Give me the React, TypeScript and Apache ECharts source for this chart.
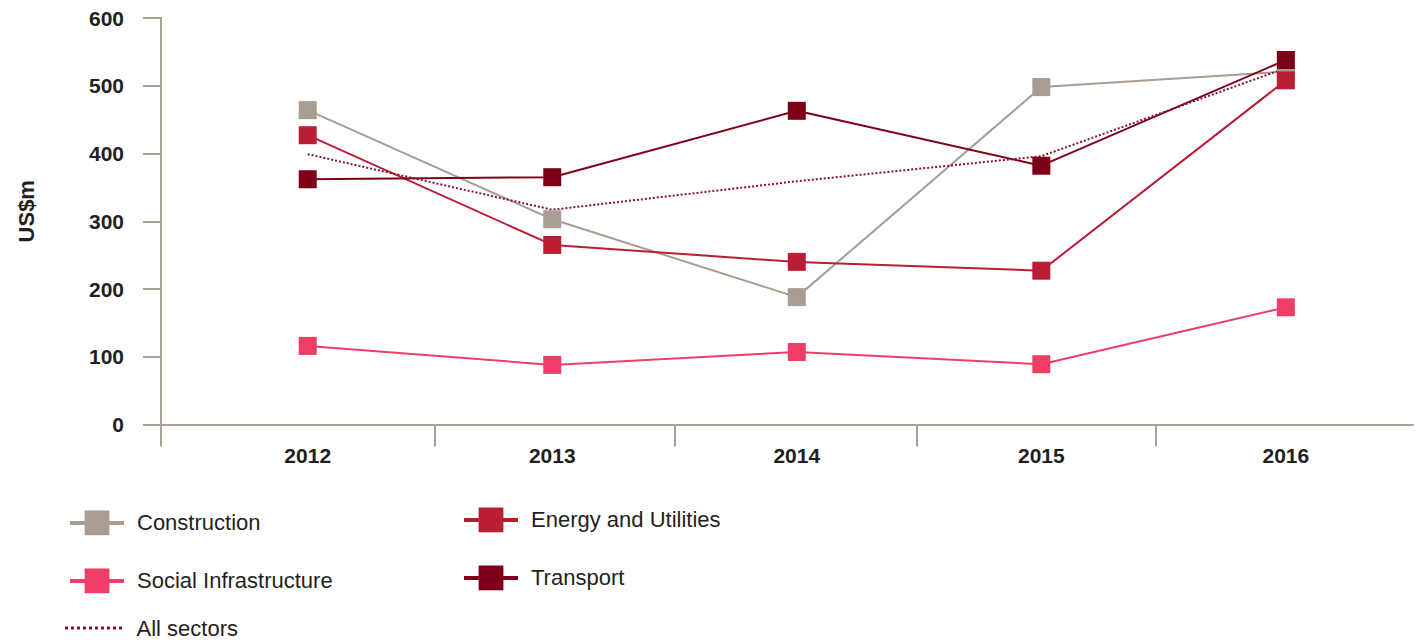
import React, { useEffect, useRef } from "react";
import * as echarts from "echarts";

const years = [2012, 2013, 2014, 2015, 2016];
const construction = [464, 303, 188, 498, 521];
const energyUtilities = [427, 265, 240, 227, 508];
const socialInfrastructure = [116, 88, 107, 89, 173];
const transport = [362, 365, 463, 382, 538];
const allSectors = [399, 317, 359, 396, 526];

const xMin = 2011.4;
const xMax = 2016.52;
const xTickValues = [2011.4, 2012.52, 2013.5, 2014.49, 2015.47];
const yTickLabels = [0, 100, 200, 300, 400, 500, 600];

const TEXT = "#231f20";
const AXIS = "#aba198";
const FONT = "'Liberation Sans', Arial, sans-serif";

const colors = {
  Construction: "#a89c93",
  "Energy and Utilities": "#b91e35",
  "Social Infrastructure": "#ef3e65",
  Transport: "#7e0018",
  "All sectors": "#8a1030",
};

const pair = (vals: number[]) => years.map((y, i) => [y, vals[i]]);

const dotPath =
  "path://" +
  Array.from({ length: 10 }, (_, i) => `M${i * 6},0h3v3h-3z`).join(" ");

export default function App() {
  const ref = useRef<HTMLDivElement>(null);
  useEffect(() => {
    document.body.style.margin = "0";
    if (!ref.current) return;
    const chart = echarts.init(ref.current, undefined, { renderer: "svg" });

    const lineSeries = (name: string, vals: number[]) => ({
      name,
      type: "line",
      data: pair(vals),
      symbol: "rect",
      symbolSize: 18,
      color: (colors as any)[name],
      lineStyle: { width: 2, color: (colors as any)[name] },
      itemStyle: { color: (colors as any)[name] },
    });

    const legendBase = {
      padding: 0,
      itemWidth: 54,
      itemHeight: 31,
      textStyle: {
        fontSize: 22,
        color: TEXT,
        fontFamily: FONT,
        padding: [0, 0, 0, 8],
      },
      lineStyle: { width: 4 },
      selectedMode: false,
    };

    chart.setOption({
      animation: false,
      grid: {
        left: 161,
        right: 11,
        top: 18,
        bottom: 644 - 424.5,
        outerBoundsMode: "none",
        containLabel: false,
      },
      xAxis: {
        type: "value",
        min: xMin,
        max: xMax,
        axisLine: { show: true, lineStyle: { color: AXIS, width: 2 } },
        axisTick: {
          show: true,
          length: 22,
          customValues: xTickValues,
          lineStyle: { color: AXIS, width: 2 },
        },
        axisLabel: {
          customValues: years,
          formatter: (v: number) => String(Math.round(v)),
          margin: 20,
          fontSize: 21,
          fontWeight: "bold",
          color: TEXT,
          fontFamily: FONT,
        },
        splitLine: { show: false },
      },
      yAxis: {
        type: "value",
        min: yTickLabels[0],
        max: yTickLabels[yTickLabels.length - 1],
        interval: 100,
        name: "US$m",
        nameLocation: "middle",
        nameGap: 124,
        nameTextStyle: {
          fontSize: 22,
          fontWeight: "bold",
          color: TEXT,
          fontFamily: FONT,
          padding: [0, 0, 0, 20],
        },
        axisLine: { show: true, lineStyle: { color: AXIS, width: 2 } },
        axisTick: { show: true, length: 18, lineStyle: { color: AXIS, width: 2 } },
        axisLabel: {
          margin: 37,
          fontSize: 21,
          fontWeight: "bold",
          color: TEXT,
          fontFamily: FONT,
        },
        splitLine: { show: false },
      },
      legend: [
        { ...legendBase, left: 68, top: 526 - 15.5, data: ["Construction"] },
        { ...legendBase, left: 462, top: 523 - 15.5, data: ["Energy and Utilities"] },
        { ...legendBase, left: 68, top: 584 - 15.5, data: ["Social Infrastructure"] },
        { ...legendBase, left: 462, top: 581 - 15.5, data: ["Transport"] },
        {
          ...legendBase,
          left: 65,
          top: 628 - 11,
          itemWidth: 58,
          itemHeight: 3,
          textStyle: { ...legendBase.textStyle, padding: [0, 0, 0, 9] },
          data: [{ name: "All sectors", icon: dotPath }],
        },
      ],
      series: [
        lineSeries("Construction", construction),
        lineSeries("Energy and Utilities", energyUtilities),
        lineSeries("Social Infrastructure", socialInfrastructure),
        lineSeries("Transport", transport),
        {
          name: "All sectors",
          type: "line",
          data: pair(allSectors),
          symbol: "none",
          color: colors["All sectors"],
          lineStyle: { width: 2, type: "dotted", color: colors["All sectors"] },
          itemStyle: { color: colors["All sectors"] },
        },
      ],
    });
    return () => chart.dispose();
  }, []);
  return <div ref={ref} style={{ width: 1424, height: 644 }} />;
}
